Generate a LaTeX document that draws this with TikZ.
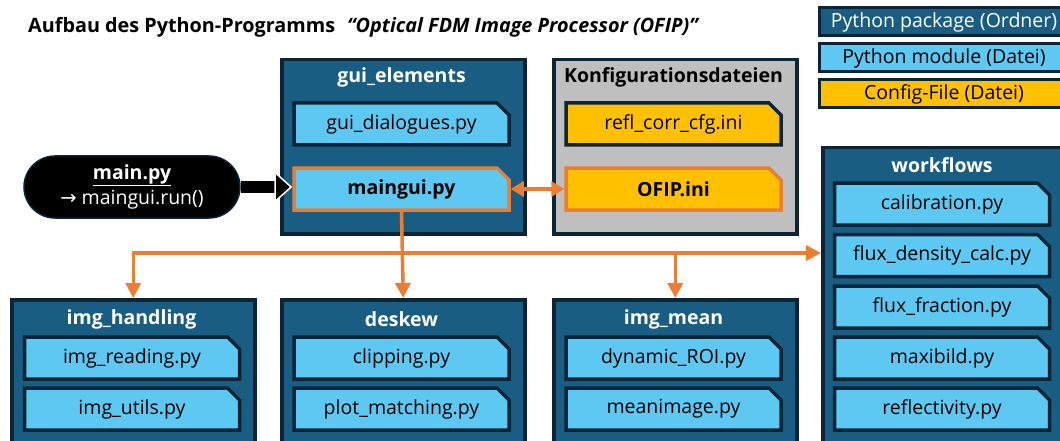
\documentclass[tikz,border=0pt]{standalone}
\usepackage{fontspec}
\setmainfont{Open Sans}
\newfontfamily\arrowfont{DejaVu Sans}
\usetikzlibrary{shapes.misc,arrows.meta}
\definecolor{pkgfill}{HTML}{195E82}
\definecolor{darkb}{HTML}{0B2436}
\definecolor{modfill}{HTML}{5DC9F2}
\definecolor{cfgfill}{HTML}{FFC000}
\definecolor{orng}{HTML}{ED7D31}
\definecolor{grayfill}{HTML}{BFBFBF}
\begin{document}
\begin{tikzpicture}[x=1pt,y=-1pt,
  font=\fontsize{19.5}{22}\selectfont,
  pkg/.style={draw=darkb, fill=pkgfill, line width=3.5pt, inner sep=0pt, anchor=north west},
  pkgtitle/.style={text=white, font=\fontsize{19.5}{22}\selectfont\bfseries},
  modbox/.style={chamfered rectangle, chamfered rectangle corners=north east,
    chamfered rectangle xsep=6pt, chamfered rectangle ysep=6pt,
    draw=darkb, fill=modfill, line width=3.5pt, minimum width=215pt, minimum height=42pt, inner sep=0pt},
  cfgbox/.style={modbox, fill=cfgfill},
  hl/.style={draw=orng},
  boldtxt/.style={font=\fontsize{19.5}{22}\selectfont\bfseries},
  legend/.style={draw=darkb, line width=3pt, minimum width=250pt, minimum height=28pt, inner sep=0pt},
  oarrow/.style={draw=orng, line width=3.5pt, -{Triangle[length=15pt,width=15pt]}},
]
\useasboundingbox (0,0) rectangle (1060,441);
\clip (0,0) rectangle (1060,441);

% title
\node[anchor=west, inner sep=0pt, font=\fontsize{19.8}{22}\selectfont\bfseries] (title) at (28,27)
  {Aufbau des Python-Programms\hspace{12pt}\textit{“Optical FDM Image Processor (OFIP)”}};

% legend
\node[legend, fill=pkgfill, text=white] (lgpkg) at (944,22) {Python package (Ordner)};
\node[legend, fill=modfill] (lgmod) at (944,58) {Python module (Datei)};
\node[legend, fill=cfgfill] (lgcfg) at (944,94) {Config-File (Datei)};

% packages
\node[pkg, minimum width=243pt, minimum height=174pt] (gui) at (280,58) {};
\node[pkgtitle] (guiT) at (401.5,77) {gui\_elements};
\node[pkg, fill=grayfill, minimum width=243pt, minimum height=174pt] (cfg) at (552,58) {};
\node[pkgtitle, text=black] (cfgT) at (673.5,77) {Konfigurationsdateien};
\node[pkg, minimum width=249pt, minimum height=330pt] (wf) at (821,146) {};
\node[pkgtitle] (wfT) at (942,165) {workflows};
\node[pkg, minimum width=243pt, minimum height=180pt] (imgh) at (10,298) {};
\node[pkgtitle] (imghT) at (131.5,319) {img\_handling};
\node[pkg, minimum width=243pt, minimum height=180pt] (desk) at (280,298) {};
\node[pkgtitle] (deskT) at (401.5,319) {deskew};
\node[pkg, minimum width=243pt, minimum height=180pt] (imgm) at (552,298) {};
\node[pkgtitle] (imgmT) at (673.5,319) {img\_mean};

% modules
\node[modbox] (guidlg) at (401.5,124) {gui\_dialogues.py};
\node[modbox, hl, boldtxt] (maingui) at (401.5,189) {maingui.py};
\node[cfgbox] (refl) at (673.5,124) {refl\_corr\_cfg.ini};
\node[cfgbox, hl, boldtxt] (ofip) at (673.5,189) {OFIP.ini};

\node[modbox] (calib) at (942,204) {calibration.py};
\node[modbox] (fluxd) at (942,255.5) {flux\_density\_calc.py};
\node[modbox] (fluxf) at (942,307) {flux\_fraction.py};
\node[modbox] (maxi) at (942,358) {maxibild.py};
\node[modbox] (refle) at (942,409) {reflectivity.py};

\node[modbox] (imgread) at (132,358) {img\_reading.py};
\node[modbox] (imgutil) at (132,409) {img\_utils.py};
\node[modbox] (clip) at (401.5,358) {clipping.py};
\node[modbox] (plotm) at (401.5,409) {plot\_matching.py};
\node[modbox] (droi) at (673.5,358) {dynamic\_ROI.py};
\node[modbox] (meani) at (673.5,409) {meanimage.py};

% main.py
\node[fill=black, draw=darkb, line width=1.5pt, rounded corners=31pt, minimum width=216pt, minimum height=62pt,
  text=white, align=center, font=\fontsize{19.5}{25}\selectfont] (main) at (132,187)
  {\textbf{\underline{main.py}}\\ {\arrowfont →} maingui.run()};

% connectors
\draw[line width=12pt, -{Triangle[length=18pt,width=32pt,color=white,fill=black,line width=1.5pt]}]
  (main.east) -- (main.east -| maingui.west);
\draw[draw=orng, line width=3.5pt, {Triangle[length=13pt,width=15pt]}-{Triangle[length=13pt,width=15pt]}]
  (maingui.east) -- (ofip.west);
\coordinate (junc) at (401.5,253);
\draw[oarrow] (maingui.south) -- (desk.north);
\draw[oarrow] (junc) -| (imgh.north);
\draw[oarrow] (junc) -- (wf.west |- junc);
\draw[oarrow] (junc) -| (imgm.north);
\end{tikzpicture}
\end{document}
